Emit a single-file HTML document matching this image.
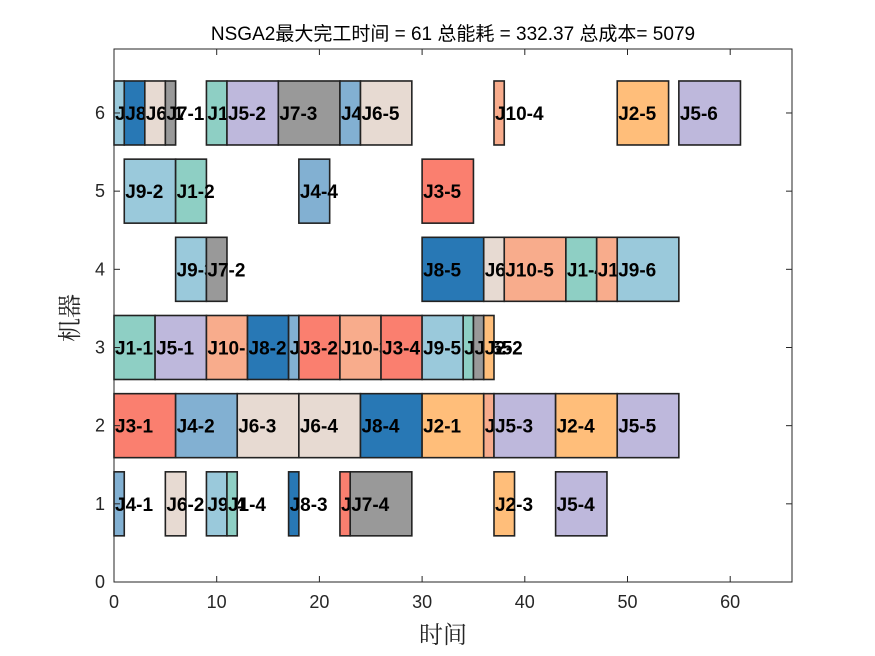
<!DOCTYPE html>
<html><head><meta charset="utf-8"><style>
html,body{margin:0;padding:0;background:#fff;}
svg{display:block;}
</style></head><body>
<svg width="875" height="656" xmlns="http://www.w3.org/2000/svg">
<rect width="875" height="656" fill="#fff"/>
<g id="bars" stroke="#222" stroke-width="1.6"></g>
<g stroke="#262626" stroke-width="1" fill="none">
<rect x="114" y="49" width="678" height="533"/>
</g>
<g id="ticks" stroke="#262626" stroke-width="1"></g>
<g id="tl" font-family="Liberation Sans, sans-serif" font-size="18" fill="#262626"></g>
<text x="453" y="40" text-anchor="middle" font-family="Liberation Sans, 'Noto Sans CJK SC', sans-serif" font-size="19" fill="#000">NSGA2最大完工时间 = 61 总能耗 = 332.37 总成本= 5079</text>
<text x="443" y="643" text-anchor="middle" font-family="'Noto Serif CJK SC', serif" font-size="24" fill="#262626">时间</text>
<text transform="translate(78,318) rotate(-90)" text-anchor="middle" font-family="'Noto Serif CJK SC', serif" font-size="24" fill="#262626">机器</text>
</svg>
<script>
const C={1:'#8ecfc4',2:'#ffbe7a',3:'#fa7f6f',4:'#82b0d2',5:'#beb8dc',6:'#e7dad2',7:'#999999',8:'#2878b5',9:'#9ac9db',10:'#f8ac8c'};
const D=[
[6,0,1,9,1],[6,1,3,8,1],[6,3,5,6,1],[6,5,6,7,1],[6,9,11,1,3],[6,11,16,5,2],[6,16,22,7,3],[6,22,24,4,3],[6,24,29,6,5],[6,37,38,10,4],[6,49,54,2,5],[6,55,61,5,6],
[5,1,6,9,2],[5,6,9,1,2],[5,18,21,4,4],[5,30,35,3,5],
[4,6,9,9,3],[4,9,11,7,2],[4,30,36,8,5],[4,36,38,6,6],[4,38,44,10,5],[4,44,47,1,4],[4,47,49,10,6],[4,49,55,9,6],
[3,0,4,1,1],[3,4,9,5,1],[3,9,13,10,1],[3,13,17,8,2],[3,17,18,4,3],[3,18,22,3,2],[3,22,26,10,3],[3,26,30,3,4],[3,30,34,9,5],[3,34,35,1,5],[3,35,36,7,5],[3,36,37,2,2],
[2,0,6,3,1],[2,6,12,4,2],[2,12,18,6,3],[2,18,24,6,4],[2,24,30,8,4],[2,30,36,2,1],[2,36,37,10,2],[2,37,43,5,3],[2,43,49,2,4],[2,49,55,5,5],
[1,0,1,4,1],[1,5,7,6,2],[1,9,11,9,4],[1,11,12,1,4],[1,17,18,8,3],[1,22,23,3,3],[1,23,29,7,4],[1,37,39,2,3],[1,43,48,5,4]];
const X=t=>114+10.27*t, Y=m=>582-78.17*m;
const ns='http://www.w3.org/2000/svg';
const g=document.getElementById('bars');
function el(n,a,p,t){const e=document.createElementNS(ns,n);for(const k in a)e.setAttribute(k,a[k]);if(t!==undefined)e.textContent=t;p.appendChild(e);return e;}
for(const [m,s,e,j,o] of D){
 el('rect',{x:X(s),y:Y(m)-32,width:X(e)-X(s),height:64,fill:C[j]},g);
 el('text',{x:X(s)+1,y:Y(m)+7,'font-family':'Liberation Sans, sans-serif','font-size':'19','font-weight':'bold',fill:'#000',stroke:'none'},g,'J'+j+'-'+o);
}
const tk=document.getElementById('ticks'),tl=document.getElementById('tl');
for(let v=0;v<=60;v+=10){const x=X(v);el('line',{x1:x,y1:582,x2:x,y2:576},tk);el('line',{x1:x,y1:49,x2:x,y2:55},tk);el('text',{x:x,y:608,'text-anchor':'middle'},tl,v);}
for(let m=0;m<=6;m++){const y=Y(m);el('line',{x1:114,y1:y,x2:120,y2:y},tk);el('line',{x1:792,y1:y,x2:786,y2:y},tk);el('text',{x:105,y:y+6,'text-anchor':'end'},tl,m);}
</script>
</body></html>
